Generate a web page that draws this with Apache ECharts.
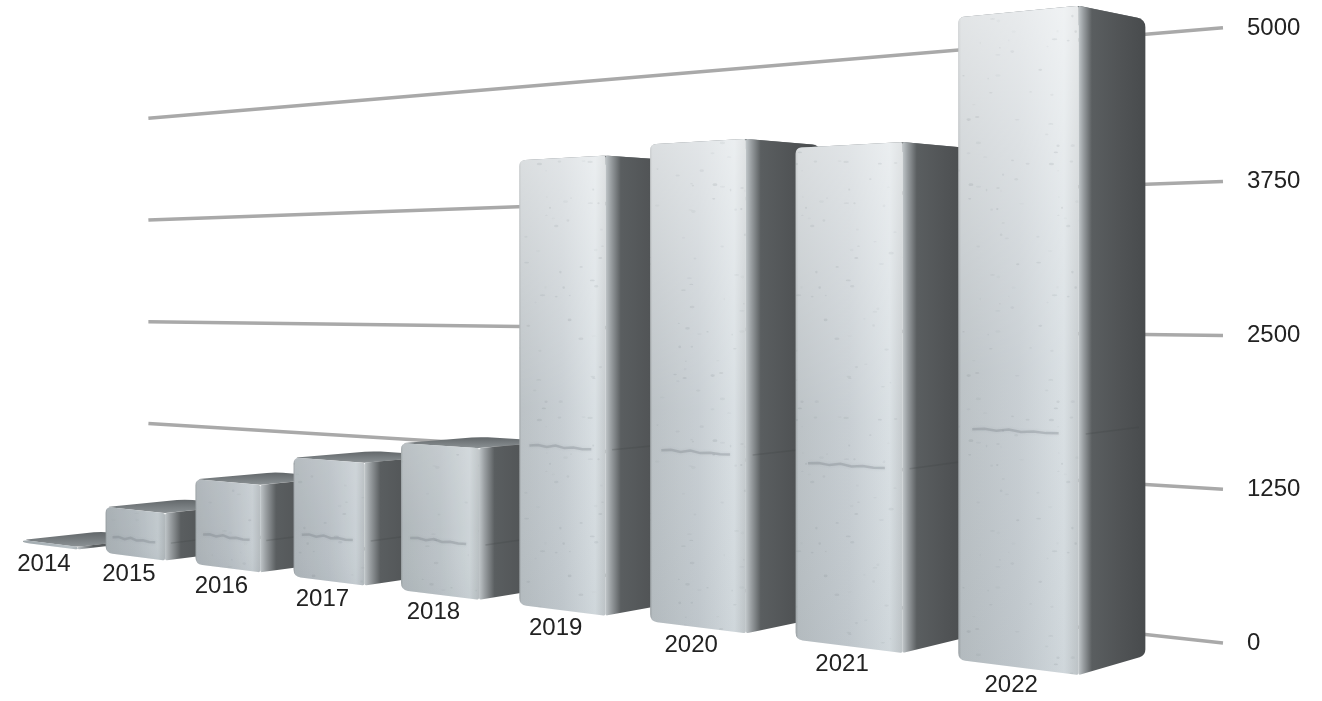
<!DOCTYPE html>
<html>
<head>
<meta charset="utf-8">
<script src="https://cdn.jsdelivr.net/npm/echarts@6/dist/echarts.min.js"></script>
<style>html,body{margin:0;padding:0;background:#fff}#c{width:1322px;height:701px;filter:blur(0.5px)}</style>
</head>
<body>
<div id="c"></div>
<script>
const categories = ['2014','2015','2016','2017','2018','2019','2020','2021','2022'];
const values = [30, 506, 896, 1199, 1413, 4073, 4149, 4052, 5000];
const tickValues = [0, 1250, 2500, 3750, 5000];

/* two-point perspective that warps the flat axis coordinates */
const GRID_LEFT = 148, GRID_RIGHT = 98, GRID_TOP = 28, GRID_HEIGHT = 615;
const A = -0.0402, B = 0.0338, VP1 = [-1950, 295], VP2 = [2433, 280], P0 = [23, 542.6];
const BAR_W = 0.67, WALL_D = 1.864, WALL_T0 = -0.22, WALL_T1 = 8.81, REF_D = 0.709;

function warp(t, d, h) {
  const u = A * t, e = B * d, D = 1 + u + e;
  return [(P0[0] + u * VP1[0] + e * VP2[0]) / D,
          (P0[1] + u * VP1[1] + e * VP2[1]) / D - h * REF_D / D];
}
/* pts: corners, radii: one corner radius per point */
function roundPath(pts, radii) {
  const n = pts.length; let s = '';
  for (let i = 0; i < n; i++) {
    const p = pts[i], a = pts[(i + n - 1) % n], b = pts[(i + 1) % n], r = radii[i];
    const la = Math.hypot(a[0]-p[0], a[1]-p[1]), lb = Math.hypot(b[0]-p[0], b[1]-p[1]);
    const ra = Math.min(r, la * 0.45), rb = Math.min(r, lb * 0.45);
    const s1 = [p[0] + (a[0]-p[0]) * ra / (la || 1), p[1] + (a[1]-p[1]) * ra / (la || 1)];
    const s2 = [p[0] + (b[0]-p[0]) * rb / (lb || 1), p[1] + (b[1]-p[1]) * rb / (lb || 1)];
    s += (i ? 'L' : 'M') + s1[0].toFixed(2) + ' ' + s1[1].toFixed(2);
    s += 'Q' + p[0].toFixed(2) + ' ' + p[1].toFixed(2) + ' ' + s2[0].toFixed(2) + ' ' + s2[1].toFixed(2);
  }
  return s + 'Z';
}
/* surface speckle of the metal material */
function makeSpeckle() {
  const c = document.createElement('canvas'); c.width = c.height = 256;
  const g = c.getContext('2d'); let seed = 12345;
  const next = () => (seed = (seed * 1103515245 + 12345) & 0x7fffffff) / 0x7fffffff;
  for (let i = 0; i < 130; i++) {
    g.fillStyle = 'rgba(105,115,120,' + (0.05 + next() * 0.16) + ')';
    g.beginPath(); g.ellipse(next()*256, next()*256, 0.8 + next()*2, 0.6 + next()*0.8, 0, 0, 7); g.fill();
  }
  return c;
}
const speckle = makeSpeckle();
const LG = echarts.graphic.LinearGradient;
const frontFill = new LG(0, 0, 1, 0, [
  {offset: 0, color: '#9aa0a3'}, {offset: 0.025, color: '#b6bdc1'}, {offset: 0.5, color: '#c3cacf'},
  {offset: 0.88, color: '#d6dde1'}, {offset: 1, color: '#c0c6c9'}]);
const sideFill = new LG(0, 0, 1, 0, [
  {offset: 0, color: '#c0c6c9'}, {offset: 0.07, color: '#9a9fa2'}, {offset: 0.2, color: '#5a5e60'}, {offset: 0.6, color: '#515456'}, {offset: 1, color: '#484b4d'}]);
const topFill = new LG(0, 1, 0, 0, [{offset: 0, color: '#8b9194'}, {offset: 1, color: '#62676a'}]);

function barItem(params, api) {
  const c = api.coord([api.value(0), api.value(1)]);
  const b = api.coord([api.value(0), 0]);
  const t = (c[0] - GRID_LEFT) / api.size([1, 0])[0] - 0.5;
  const h = b[1] - c[1];
  const t2 = t + BAR_W;
  const FLb = warp(t, 0, 0), FRb = warp(t2, 0, 0), FRt = warp(t2, 0, h), FLt = warp(t, 0, h);
  const BRb = warp(t2, 1, 0), BRt = warp(t2, 1, h), BLt = warp(t, 1, h);
  const rel = h / GRID_HEIGHT;
  /* tall bars glow at the top; short bars stay in the darker lower part of the material */
  const sheen = new LG(0, 0, 0, 1, [
    {offset: 0, color: 'rgba(255,255,255,' + (0.62 * rel).toFixed(3) + ')'},
    {offset: 0.55, color: 'rgba(255,255,255,' + (0.10 * rel).toFixed(3) + ')'},
    {offset: 1, color: 'rgba(150,160,166,0.10)'}]);
  const shade = 'rgba(95,105,112,' + (0.22 * Math.max(0, 1 - rel * 2.2)).toFixed(3) + ')';
  const frontPath = roundPath([FLb, FRb, FRt, FLt], [7, 2, 2, 6]);
  const kids = [
    {type: 'path', shape: {pathData: roundPath([FLt, FRt, BRt, BLt], [6, 3, 8, 8])}, style: {fill: topFill}},
    {type: 'path', shape: {pathData: roundPath([FRb, BRb, BRt, FRt], [2, 6, 8, 2])}, style: {fill: sideFill}},
    {type: 'path', shape: {pathData: frontPath}, style: {fill: frontFill}},
    {type: 'path', shape: {pathData: frontPath}, style: {fill: sheen}},
    {type: 'path', shape: {pathData: frontPath}, style: {fill: shade}},
    {type: 'path', shape: {pathData: frontPath}, style: {fill: {image: speckle, repeat: 'repeat'}, opacity: h > 100 ? 0.7 : 0.3}}
  ];
  if (h > 30) {
    const wiggle = [0, -1, 0.5, -1.5, 0.5, -0.5, 0.5, 0];
    const line = wiggle.map((w, i) => {
      const p = warp(t + BAR_W * (0.12 + 0.72 * i / 7), 0, h * 0.36);
      return [p[0], p[1] + w];
    });
    kids.push({type: 'polyline', shape: {points: line}, style: {fill: 'none', stroke: 'rgba(110,118,124,0.28)', lineWidth: 2.5,
      shadowBlur: 3, shadowColor: 'rgba(110,118,124,0.4)'}});
    const s0 = warp(t2 + 0.02, 0.05, h * 0.36), s1 = warp(t2, 0.9, h * 0.36);
    kids.push({type: 'line', shape: {x1: s0[0], y1: s0[1], x2: s1[0], y2: s1[1]}, style: {stroke: 'rgba(60,64,66,0.22)', lineWidth: 1.5}});
  }
  const lab = warp(t + BAR_W / 2, 0, 0);
  kids.push({type: 'text', style: {x: lab[0] - 6, y: lab[1] + 18, text: categories[params.dataIndex],
    font: '24px "Liberation Sans", Arial, sans-serif', fill: '#222', textAlign: 'center', textVerticalAlign: 'middle'}});
  return {type: 'group', children: kids};
}
function wallItem(params, api) {
  const c = api.coord([0, api.value(1)]);
  const b = api.coord([0, 0]);
  const h = b[1] - c[1];
  const p0 = warp(WALL_T0, WALL_D, h), p1 = warp(WALL_T1, WALL_D, h);
  return {type: 'line', shape: {x1: p0[0], y1: p0[1], x2: p1[0], y2: p1[1]},
          style: {stroke: '#a9a9a9', lineWidth: 3.5, lineCap: 'butt'}};
}

const chart = echarts.init(document.getElementById('c'), null, {renderer: 'canvas'});
chart.setOption({
  animation: false,
  backgroundColor: '#fff',
  grid: {left: GRID_LEFT, right: GRID_RIGHT, top: GRID_TOP, height: GRID_HEIGHT},
  xAxis: {type: 'category', data: categories, show: false},
  yAxis: {
    type: 'value', position: 'right', min: 0, max: 5000, interval: 1250,
    axisLine: {show: false}, axisTick: {show: false}, splitLine: {show: false},
    axisLabel: {margin: 23, align: 'left', color: '#222', fontSize: 24, padding: [9, 0, 0, 0],
      fontFamily: '"Liberation Sans", Arial, sans-serif', formatter: v => String(v)}
  },
  series: [
    {type: 'custom', renderItem: wallItem, silent: true, data: tickValues.map(v => [0, v]), encode: {x: 0, y: 1}, z: 1},
    {type: 'custom', renderItem: barItem, silent: true, data: values.map((v, i) => [i, v]), encode: {x: 0, y: 1}, z: 2}
  ]
});
</script>
</body>
</html>
